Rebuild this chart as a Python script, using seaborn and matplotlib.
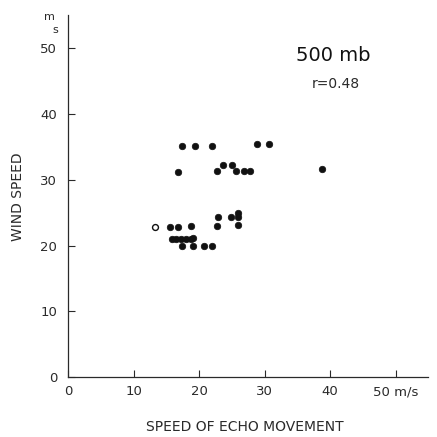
import pandas as pd
import seaborn as sns
from matplotlib import pyplot as plt

# echo speed (x) vs wind speed (y), m/s
echo_speed = [17.4, 19.3, 21.9, 28.9, 30.6,
              16.8, 22.8, 23.7, 25.0, 25.7, 26.8, 27.7, 38.8,
              15.6, 16.8, 18.8, 22.8, 22.9, 24.8, 25.9, 26.0, 25.9,
              15.8, 16.5, 17.3, 18.0, 18.8, 19.1,
              17.4, 19.1, 20.8, 21.9]
wind_speed = [35.2, 35.2, 35.2, 35.4, 35.5,
              31.2, 31.3, 32.3, 32.3, 31.4, 31.4, 31.4, 31.7,
              22.8, 22.8, 22.9, 23.0, 24.3, 24.3, 24.9, 24.3, 23.1,
              21.0, 21.0, 21.0, 21.0, 21.0, 21.2,
              20.0, 20.0, 20.0, 20.0]
# hollow point
open_echo = [13.2]
open_wind = [22.8]

xticks = [0, 10, 20, 30, 40, 50]
xtick_labels = ["0", "10", "20", "30", "40", "50 m/s"]
yticks = [0, 10, 20, 30, 40, 50]

df = pd.DataFrame({"echo": echo_speed, "wind": wind_speed})
df_open = pd.DataFrame({"echo": open_echo, "wind": open_wind})

sns.set_style("ticks")
plt.rcParams["font.family"] = ["DejaVu Sans"]
ink = "#2a2a2a"

fig = plt.figure(figsize=(4.37, 4.37), dpi=100)
ax = fig.add_axes([0.156, 0.137, 0.824, 0.828])

sns.scatterplot(x="echo", y="wind", data=df, ax=ax, color="#111111",
                s=22, edgecolor="#111111", linewidth=0.5)
sns.scatterplot(x="echo", y="wind", data=df_open, ax=ax, color="white",
                s=18, edgecolor="#111111", linewidth=1.0)

ax.set_xlim(0, 55)
ax.set_ylim(0, 55)
ax.set_xticks(xticks)
ax.set_xticklabels(xtick_labels)
ax.set_yticks(yticks)
ax.tick_params(direction="in", length=5, width=0.8, colors=ink,
               labelsize=9.5, labelcolor=ink)
ax.tick_params(axis="x", pad=6)
ax.tick_params(axis="y", pad=8)
sns.despine(ax=ax)
for sp in ["left", "bottom"]:
    ax.spines[sp].set_color(ink)
    ax.spines[sp].set_linewidth(0.9)

ax.set_xlabel("")
ax.set_ylabel("WIND SPEED", fontsize=10, color=ink, labelpad=11)
fig.text(0.56, 0.008, "SPEED OF ECHO MOVEMENT", fontsize=10, color=ink,
         ha="center", va="bottom")

# unit "m/s" stacked at top of y axis
fig.text(0.112, 0.962, "m", fontsize=8, color=ink, ha="center", va="center")
fig.text(0.126, 0.932, "s", fontsize=8, color=ink, ha="center", va="center")

ax.text(0.736, 0.889, "500 mb", transform=ax.transAxes, fontsize=14,
        color="#111111", ha="center", va="center")
ax.text(0.742, 0.81, "r=0.48", transform=ax.transAxes, fontsize=10,
        color=ink, ha="center", va="center")

fig.savefig("out.png", dpi=100)
